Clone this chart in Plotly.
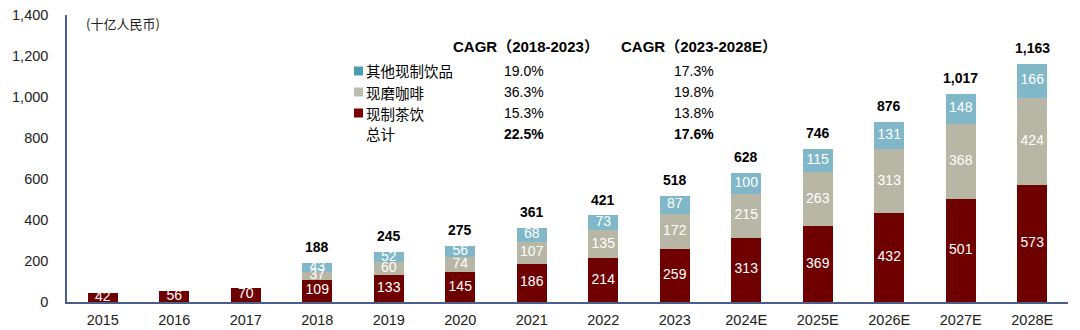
import plotly.graph_objects as go

years = ["2015", "2016", "2017", "2018", "2019", "2020", "2021", "2022", "2023",
         "2024E", "2025E", "2026E", "2027E", "2028E"]
tea = [42, 56, 70, 109, 133, 145, 186, 214, 259, 313, 369, 432, 501, 573]
coffee = [0, 0, 0, 37, 60, 74, 107, 135, 172, 215, 263, 313, 368, 424]
other = [0, 0, 0, 43, 52, 56, 68, 73, 87, 100, 115, 131, 148, 166]
totals = [None, None, None, 188, 245, 275, 361, 421, 518, 628, 746, 876, 1017, 1163]

legend_names = ["其他现制饮品", "现磨咖啡", "现制茶饮", "总计"]
cagr_1 = ["19.0%", "36.3%", "15.3%", "22.5%"]
cagr_2 = ["17.3%", "19.8%", "13.8%", "17.6%"]

C_TEA = "#6E0000"
C_COF = "#B8B7A5"
C_OTH = "#80B8CA"
FONT = "Liberation Sans, Arial, Noto Sans CJK SC, sans-serif"
CJK = "Noto Sans CJK SC, sans-serif"

fig = go.Figure()
fig.add_bar(x=years, y=tea, marker_color=C_TEA, marker_line_width=0, name="现制茶饮")
fig.add_bar(x=years, y=coffee, marker_color=C_COF, marker_line_width=0, name="现磨咖啡")
fig.add_bar(x=years, y=other, marker_color=C_OTH, marker_line_width=0, name="其他现制饮品")

# inner labels
lx, ly, lt = [], [], []
for i, yr in enumerate(years):
    base = 0
    for v in (tea[i], coffee[i], other[i]):
        if v > 0:
            lx.append(yr)
            ly.append(base + v / 2)
            lt.append(str(v))
        base += v
fig.add_scatter(x=lx, y=ly, text=lt, mode="text", showlegend=False,
                textfont=dict(color="white", size=14, family=FONT), hoverinfo="skip")

W, H = 1080, 330
L, R, T, B = 67, 12, 15, 28
pw, ph = W - L - R, H - T - B


def px(x):
    return (x - L) / pw


def py(y):
    return 1 - (y - T) / ph


out = []
# total labels above bars (x given as category index so numeric-looking years aren't misread)
for i, t in enumerate(totals):
    if t is not None:
        out.append(dict(x=i, y=t, xref="x", yref="y", text=f"<b>{t:,}</b>",
                        showarrow=False, xanchor="center", yanchor="bottom", yshift=6,
                        font=dict(size=14, color="black", family=FONT)))

out.append(dict(x=px(84), y=py(24), xref="paper", yref="paper", text="(十亿人民币)", showarrow=False,
                xanchor="left", yanchor="middle",
                font=dict(size=13, color="#222", family=CJK)))
out.append(dict(x=px(451), y=py(47), xref="paper", yref="paper", text="<b>CAGR（2018-2023）</b>",
                showarrow=False, xanchor="left", yanchor="middle",
                font=dict(size=15, color="black", family=FONT)))
out.append(dict(x=px(619), y=py(47), xref="paper", yref="paper", text="<b>CAGR（2023-2028E）</b>",
                showarrow=False, xanchor="left", yanchor="middle",
                font=dict(size=15, color="black", family=FONT)))

rows_y = [71, 92, 113, 134]
sq_colors = ["#4B9BB2", "#BDBDAE", "#7A0000", None]
shapes = []
for k, yy in enumerate(rows_y):
    out.append(dict(x=px(364), y=py(yy), xref="paper", yref="paper", text=legend_names[k],
                    showarrow=False, xanchor="left", yanchor="middle",
                    font=dict(size=14.5, color="black", family=CJK)))
    bold = k == 3
    t1 = f"<b>{cagr_1[k]}</b>" if bold else cagr_1[k]
    t2 = f"<b>{cagr_2[k]}</b>" if bold else cagr_2[k]
    out.append(dict(x=px(502), y=py(yy), xref="paper", yref="paper", text=t1, showarrow=False,
                    xanchor="left", yanchor="middle", font=dict(size=14, color="black", family=FONT)))
    out.append(dict(x=px(672), y=py(yy), xref="paper", yref="paper", text=t2, showarrow=False,
                    xanchor="left", yanchor="middle", font=dict(size=14, color="black", family=FONT)))
    if sq_colors[k]:
        shapes.append(dict(type="rect", xref="paper", yref="paper",
                           x0=px(354), x1=px(363), y0=py(yy + 4.5), y1=py(yy - 4.5),
                           fillcolor=sq_colors[k], line_width=0))

fig.update_layout(
    width=W, height=H,
    margin=dict(l=L, r=R, t=T, b=B, autoexpand=False),
    barmode="stack", bargap=0.58,
    plot_bgcolor="white", paper_bgcolor="white",
    showlegend=False,
    font=dict(family=FONT, size=14, color="#222"),
    annotations=out, shapes=shapes,
    xaxis=dict(type="category", showline=True, linecolor="#4A5E8A", linewidth=1.5, ticks="",
               showgrid=False, range=[-0.5, len(years) - 0.5], ticklabelstandoff=4,
               tickfont=dict(size=14.5, color="#222"), fixedrange=True, automargin=False),
    yaxis=dict(range=[0, 1400], dtick=200, showline=True, linecolor="#4A5E8A", linewidth=1.5,
               showgrid=False, zeroline=False, tickformat=",d", ticks="", automargin=False,
               tickfont=dict(size=14.5, color="#222"), ticklabelstandoff=14),
)
fig.write_html("out.html")
